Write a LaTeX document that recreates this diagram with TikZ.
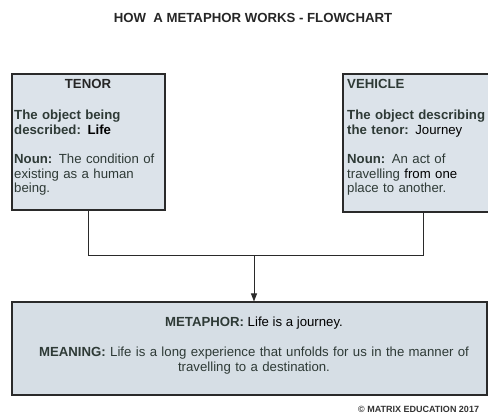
\documentclass[tikz,border=0pt]{standalone}
\usepackage{fontspec}
\setmainfont{Liberation Sans}
\usetikzlibrary{arrows.meta}
\definecolor{boxfill}{HTML}{DCE3EA}
\definecolor{boxfillb}{HTML}{D6DEE5}
\definecolor{ink}{HTML}{2E3A36}
\definecolor{edge}{HTML}{2A2A2A}
\tikzset{
  box/.style={draw=edge, line width=1.1pt, fill=#1, rectangle, inner sep=0pt},
  body/.style={text=ink, font=\fontsize{13.2}{14.6}\selectfont, inner sep=0pt, align=left},
  conn/.style={draw=edge, line width=0.9pt},
}
\begin{document}
\begin{tikzpicture}[x=1pt,y=-1pt]
\useasboundingbox (0,0) rectangle (488,418);
\clip (0,0) rectangle (488,418);
\fill[white] (0,0) rectangle (488,418);
% title
\node[font=\bfseries\fontsize{13.2}{14}\selectfont, text=black!85] (title) at (253,18) {HOW\ \ A METAPHOR WORKS - FLOWCHART};
% boxes
\node[box=boxfill, minimum width=153pt, minimum height=136pt] (tenor) at (88.5,142) {};
\node[box=boxfill, minimum width=160pt, minimum height=138pt] (vehicle) at (423,143) {};
\node[box=boxfillb, minimum width=475pt, minimum height=93pt] (meta) at (249.5,348.5) {};
% tenor text
\node[body, font=\bfseries\fontsize{13.2}{14.6}\selectfont, text=black!85] (tenorh) at (88,84) {TENOR};
\node[body, anchor=north west, text width=152pt] (tenort) at (14,110) {\textbf{The object being\\described: \textcolor{black}{Life}}\\[14.6pt]\textbf{Noun:} The condition of\\existing as a human\\being.};
% vehicle text
\node[body, anchor=west, font=\bfseries\fontsize{13.2}{14.6}\selectfont] (vehicleh) at (347,84) {VEHICLE};
\node[body, anchor=north west, text width=160pt] (vehiclet) at (347,110) {\textbf{The object describing\\the tenor:} \textcolor{black}{Journey}\\[14.6pt]\textbf{Noun:} An act of\\travelling \textcolor{black}{from one}\\place to another.};
% metaphor text
\node[body, align=center] (metah) at (254,323) {\textbf{METAPHOR:} \textcolor{black}{Life is a journey.}};
\node[body, align=center, anchor=north, text width=470pt] (metat) at (254,347) {\textbf{MEANING:} Life is a long experience that unfolds for us in the manner of\\travelling to a destination.};
% copyright
\node[font=\bfseries\fontsize{9}{10}\selectfont, text=black!80, anchor=west, inner sep=0pt] (copy) at (358,409) {\textcopyright\ MATRIX EDUCATION 2017};
% connectors
\coordinate (jl) at (tenor.south |- 0,255);
\coordinate (jr) at (vehicle.south |- 0,255);
\coordinate (jm) at (254,255);
\draw[conn] (tenor.south) -- (jl) -- (jr) -- (vehicle.south);
\draw[conn, -{Triangle[length=8pt,width=6pt]}] (jm) -- (jm |- meta.north);
\end{tikzpicture}
\end{document}
